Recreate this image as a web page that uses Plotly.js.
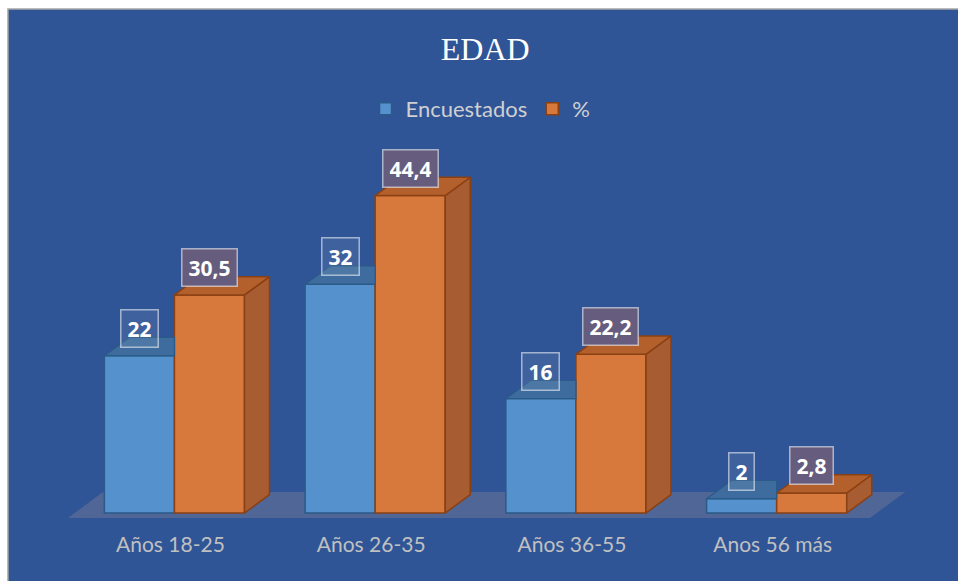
<!DOCTYPE html>
<html>
<head>
<meta charset="utf-8">
<script src="https://cdn.plot.ly/plotly-3.0.1.min.js"></script>
<style>html,body{margin:0;padding:0;background:#fff;}#chart{width:958px;height:581px;}</style>
</head>
<body>
<div id="chart"></div>
<script>
// ---- data ----
const categorias = ['Años 18-25', 'Años 26-35', 'Años 36-55', 'Anos 56 más'];
const encuestados = [22, 32, 16, 2];
const porcentaje = [30.5, 44.4, 22.2, 2.8];
const serieNombres = ['Encuestados', '%'];

// ---- style / geometry constants ----
const W = 0.349;   // bar width (category units)
const DX = 0.1245; // depth offset x
const DY = 2.56;   // depth offset y
const BG = '#2f5597';
const idx = categorias.map((_, i) => i);
const fmt = v => String(v).replace('.', ',');

function topFaces(vals, off, clipRight) {
  const xs = [], ys = [];
  vals.forEach((h, i) => {
    const x0 = i + off, x1 = x0 + W;
    if (clipRight) {
      xs.push(x0, x1, x1, x0 + DX, x0, null);
    } else {
      xs.push(x0, x1, x1 + DX, x0 + DX, x0, null);
    }
    ys.push(h, h, h + DY, h + DY, h, null);
  });
  return {xs, ys};
}
function sideFaces(vals, off) {
  const xs = [], ys = [];
  vals.forEach((h, i) => {
    const x1 = i + off + W;
    xs.push(x1, x1 + DX, x1 + DX, x1, x1, null);
    ys.push(0, DY, h + DY, h, 0, null);
  });
  return {xs, ys};
}

const bt = topFaces(encuestados, -W, true);
const ot = topFaces(porcentaje, 0, false);
const os = sideFaces(porcentaje, 0);

const traces = [
  {type: 'bar', name: serieNombres[0], x: idx, y: encuestados, width: W, offset: -W,
   marker: {color: '#5592cd', line: {color: '#2a5a87', width: 1.5}}, hoverinfo: 'skip'},
  {type: 'bar', name: serieNombres[1], x: idx, y: porcentaje, width: W, offset: 0,
   marker: {color: '#d7783c', line: {color: '#8a4012', width: 1.5}}, hoverinfo: 'skip'},
  {type: 'scatter', mode: 'lines', x: bt.xs, y: bt.ys, fill: 'toself', fillcolor: '#3e6c9e',
   line: {color: '#2a5a87', width: 1.2}, showlegend: false, hoverinfo: 'skip'},
  {type: 'scatter', mode: 'lines', x: os.xs, y: os.ys, fill: 'toself', fillcolor: '#a85c31',
   line: {color: '#8a4012', width: 1.5}, showlegend: false, hoverinfo: 'skip'},
  {type: 'scatter', mode: 'lines', x: ot.xs, y: ot.ys, fill: 'toself', fillcolor: '#b4602d',
   line: {color: '#8a4012', width: 1.5}, showlegend: false, hoverinfo: 'skip'}
];

const labelFont = {family: 'Open Sans', size: 21, color: '#ffffff'};
const annotations = [];
encuestados.forEach((v, i) => annotations.push({
  x: i - W / 2, y: v, xref: 'x', yref: 'y', text: '<b>' + fmt(v) + '</b>', showarrow: false,
  yanchor: 'bottom', yshift: 8, font: labelFont, height: 24,
  bgcolor: 'rgba(255,255,255,0.08)', bordercolor: 'rgba(255,255,255,0.55)', borderwidth: 1.5, borderpad: 6
}));
porcentaje.forEach((v, i) => annotations.push({
  x: i + W / 2, y: v, xref: 'x', yref: 'y', text: '<b>' + fmt(v) + '</b>', showarrow: false,
  yanchor: 'bottom', yshift: 8, font: labelFont, height: 24,
  bgcolor: '#665d7e', bordercolor: 'rgba(255,255,255,0.55)', borderwidth: 1.5, borderpad: 6
}));

const floorPath = 'M -0.53 -0.7 L 3.465 -0.7 L 3.64 2.94 L -0.356 2.94 Z';

const layout = {
  width: 958, height: 581,
  margin: {l: 60, r: 38, t: 140, b: 63},
  paper_bgcolor: '#ffffff', plot_bgcolor: 'rgba(0,0,0,0)',
  barmode: 'overlay',
  title: {text: 'EDAD', x: 0.5065, xanchor: 'center', y: 1 - 49 / 581, yanchor: 'middle',
          font: {family: 'Liberation Serif', size: 32, color: '#ffffff'}},
  showlegend: true,
  legend: {orientation: 'h', x: 0.489, xanchor: 'center', y: 1.082, yanchor: 'middle',
           itemwidth: 30, font: {family: 'Lato', size: 22, color: '#d0d0d0'}, bgcolor: 'rgba(0,0,0,0)'},
  xaxis: {range: [-0.570, 3.714], tickvals: idx, ticktext: categorias, showgrid: false,
          zeroline: false, showline: false, ticks: '', ticklabelstandoff: 12, ticklabelshift: -4,
          tickfont: {family: 'Lato', size: 21, color: '#c0c0c0'}, fixedrange: true},
  yaxis: {range: [-0.70, 52.17], showgrid: false, zeroline: false, showline: false,
          showticklabels: false, ticks: '', fixedrange: true},
  shapes: [
    {type: 'rect', xref: 'paper', yref: 'paper', x0: -0.0605, x1: 1.06, y0: -0.2, y1: 1.3466,
     fillcolor: BG, line: {color: '#a6a6a6', width: 1.5}, layer: 'below'},
    {type: 'path', xref: 'x', yref: 'y', path: floorPath, fillcolor: 'rgba(150,140,150,0.32)',
     line: {width: 0}, layer: 'below'}
  ],
  annotations: annotations
};

Plotly.newPlot('chart', traces, layout, {displayModeBar: false, staticPlot: true});
</script>
</body>
</html>
